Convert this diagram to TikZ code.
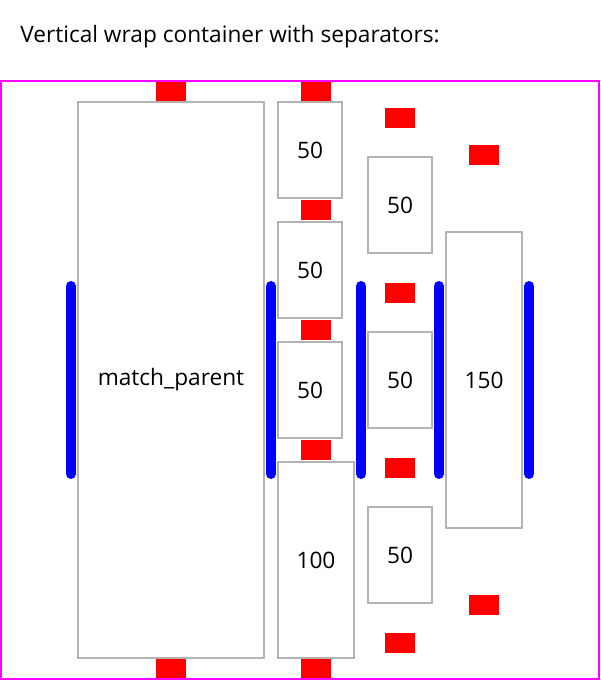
\documentclass[tikz,border=0pt]{standalone}
\usepackage{fontspec}
\setmainfont{Open Sans}
\definecolor{boxgray}{HTML}{B3B3B3}
\definecolor{framemag}{HTML}{FF00FF}
\begin{document}
\begin{tikzpicture}[x=0.75pt,y=-0.75pt,
        box/.style={draw=boxgray,line width=1.5pt,inner sep=0pt,outer sep=0pt,font=\fontsize{17}{20}\selectfont},
        sep/.style={fill=red,inner sep=0pt,minimum width=22.5pt,minimum height=15pt},
        bar/.style={draw=blue,line width=7.5pt,line cap=round}]
        \useasboundingbox (0,0) rectangle (600,680);
        \node[anchor=base west,inner sep=0pt,font=\fontsize{17}{20}\selectfont] (title) at (20,43) {Vertical wrap container with separators:};

        \node[box,minimum width=139.5pt,minimum height=417pt] (mp) at (171,380) {match\_parent};
        \foreach \y / \n in {150/a,270/b,390/c}
            \node[box,minimum width=48pt,minimum height=72pt] (c2\n) at (310,\y) {50};
        \node[box,minimum width=57pt,minimum height=147pt] (c2d) at (316,560) {100};
        \foreach \y / \n in {205/a,380/b,555/c}
            \node[box,minimum width=48pt,minimum height=72pt] (c3\n) at (400,\y) {50};
        \node[box,minimum width=57pt,minimum height=222pt] (c4a) at (484,380) {150};

        \foreach \x / \y [count=\i] in {171/91,171/669,316/91,316/210,316/330,316/450,316/669,400/118,400/293,400/468,400/643,484/155,484/605}
            \node[sep] (sep\i) at (\x,\y) {};

        \foreach \x in {71,271,361,439,529}
            \draw[bar] (\x,286) -- (\x,474);

        \draw[framemag,line width=1.5pt] (1,81) rectangle (599,679);
    \end{tikzpicture}
\end{document}
